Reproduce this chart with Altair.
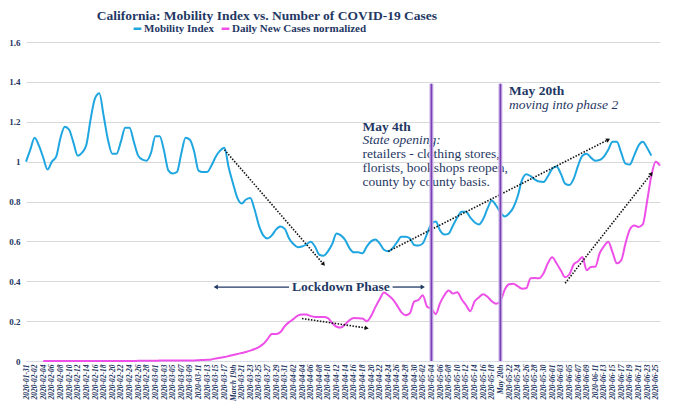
import altair as alt
import pandas as pd

SERIF = "Liberation Serif"
NAVY = "#1F3864"
BLUE = "#1FA6E0"
PINK = "#EE4FE8"

# ---- categories: one per day, 2020-01-31 .. 2020-06-26 ----
start = pd.Timestamp("2020-01-31")
all_dates = [(start + pd.Timedelta(days=i)).strftime("%Y-%m-%d") for i in range(148)]
label_dates = all_dates[0:147:2]

# ---- Mobility Index, 2020-01-31 .. 2020-06-24 ----
mobility = [
    1.0, 1.06, 1.12, 1.08, 1.02, 0.96, 1.0, 1.025, 1.12, 1.175,
    1.16, 1.095, 1.03, 1.045, 1.085, 1.215, 1.317, 1.343, 1.23, 1.11,
    1.04, 1.04, 1.10, 1.17, 1.17, 1.10, 1.03, 1.01, 1.005, 1.045,
    1.127, 1.127, 1.055, 0.956, 0.94, 0.948, 1.04, 1.12, 1.11, 1.05,
    0.955, 0.948, 0.948, 0.98, 1.025, 1.055, 1.07, 0.97, 0.89, 0.818,
    0.79, 0.81, 0.818, 0.76, 0.68, 0.63, 0.615, 0.63, 0.66, 0.675,
    0.663, 0.615, 0.587, 0.571, 0.574, 0.585, 0.598, 0.574, 0.533, 0.528,
    0.55, 0.587, 0.639, 0.63, 0.607, 0.566, 0.545, 0.545, 0.54, 0.574,
    0.60, 0.61, 0.59, 0.558, 0.55, 0.566, 0.595, 0.623, 0.623, 0.615,
    0.582, 0.579, 0.59, 0.639, 0.688, 0.70, 0.655, 0.634, 0.639, 0.68,
    0.72, 0.748, 0.748, 0.72, 0.696, 0.685, 0.712, 0.764, 0.805, 0.78,
    0.745, 0.725, 0.74, 0.77, 0.826, 0.907, 0.937, 0.927, 0.91, 0.90,
    0.898, 0.927, 0.964, 0.976, 0.94, 0.89, 0.883, 0.915, 0.98, 1.03,
    1.04, 1.02, 1.005, 1.008, 1.025, 1.06, 1.10, 1.10, 1.045, 0.99,
    0.985, 1.03, 1.08, 1.10, 1.07, 1.03,
]

# ---- Daily New Cases normalized, 2020-02-04 .. 2020-06-26 ----
cases_first_day = 4
cases = [0.0] * 22 + [
    0.001, 0.001, 0.001, 0.001, 0.001, 0.002, 0.002, 0.002, 0.002, 0.002,
    0.003, 0.003, 0.003,
    0.003, 0.004, 0.005, 0.006, 0.008, 0.012, 0.016, 0.02, 0.025, 0.03,
    0.035, 0.04, 0.045, 0.052, 0.06, 0.07, 0.085, 0.11, 0.135, 0.135,
    0.145, 0.175, 0.195, 0.21, 0.228, 0.233, 0.233, 0.225, 0.221, 0.221,
    0.221, 0.215, 0.19, 0.172, 0.168, 0.184, 0.205, 0.216, 0.215, 0.213,
    0.2, 0.225, 0.27, 0.31, 0.343, 0.33, 0.31, 0.28, 0.245, 0.23,
    0.24, 0.298, 0.306, 0.33, 0.272, 0.262, 0.235, 0.29, 0.33, 0.354,
    0.338, 0.345, 0.31, 0.281, 0.25, 0.298, 0.319, 0.335, 0.322, 0.3,
    0.287, 0.3, 0.358, 0.385, 0.388, 0.375, 0.363, 0.365, 0.415, 0.416,
    0.415, 0.44, 0.49, 0.52, 0.49, 0.455, 0.42, 0.435, 0.485, 0.5,
    0.522, 0.455, 0.472, 0.473, 0.54, 0.575, 0.598, 0.545, 0.49, 0.505,
    0.59, 0.66, 0.68, 0.672, 0.685, 0.8, 0.93, 1.0, 0.98,
]

series_names = ["Mobility Index", "Daily New Cases normalized"]
y_ticks = [0, 0.2, 0.4, 0.6, 0.8, 1.0, 1.2, 1.4, 1.6]

# ---- annotations ----
event_dates = ["2020-05-04", "2020-05-20"]
event_top = 1.39

text_dates = ["2020-04-18", "2020-04-18", "2020-04-18", "2020-04-18", "2020-04-18",
              "2020-05-22", "2020-05-22", "2020-04-13"]
text_values = [1.155, 1.086, 1.017, 0.948, 0.879, 1.335, 1.265, 0.371]
text_lines = ["May 4th", "State opening:", "retailers - clothing stores,",
              "florists, bookshops reopen,", "county by county basis.",
              "May 20th", "moving into phase 2", "Lockdown Phase"]
text_kinds = ["bold", "italic", "normal", "normal", "normal", "bold", "italic", "center"]

trend_start_dates = ["2020-03-17", "2020-04-04", "2020-04-24", "2020-06-04"]
trend_start_values = [1.06, 0.213, 0.55, 0.39]
trend_end_dates = ["2020-04-09", "2020-04-19", "2020-06-14", "2020-06-24"]
trend_end_values = [0.485, 0.165, 1.11, 0.94]
trend_head_angles = [140, 99, 63, 38]

lock_start_dates = ["2020-04-01", "2020-04-25"]
lock_end_dates = ["2020-03-15", "2020-05-02"]
lock_value = 0.371
lock_head_angles = [270, 90]

# ---- tables ----
rows = []
for i, v in enumerate(mobility):
    rows.append({"date": all_dates[i], "value": v, "series": series_names[0]})
for i, v in enumerate(cases):
    rows.append({"date": all_dates[cases_first_day + i], "value": v, "series": series_names[1]})
df = pd.DataFrame(rows)

ev_df = pd.DataFrame({"date": event_dates, "value": [0] * len(event_dates),
                      "top": [event_top] * len(event_dates)})
txt_df = pd.DataFrame({"date": text_dates, "value": text_values,
                       "text": text_lines, "kind": text_kinds})

tr_rows = []
for k in range(len(trend_start_dates)):
    tr_rows.append({"id": k, "ord": 0, "date": trend_start_dates[k], "value": trend_start_values[k]})
    tr_rows.append({"id": k, "ord": 1, "date": trend_end_dates[k], "value": trend_end_values[k]})
tr_df = pd.DataFrame(tr_rows)
tr_head = pd.DataFrame({"date": trend_end_dates, "value": trend_end_values,
                        "angle": trend_head_angles})

lk_rows = []
for k in range(len(lock_start_dates)):
    lk_rows.append({"id": k, "ord": 0, "date": lock_start_dates[k], "value": lock_value})
    lk_rows.append({"id": k, "ord": 1, "date": lock_end_dates[k], "value": lock_value})
lk_df = pd.DataFrame(lk_rows)
lk_head = pd.DataFrame({"date": lock_end_dates, "value": [lock_value] * 2,
                        "angle": lock_head_angles})

# ---- scales / axes ----
x_scale = alt.Scale(domain=all_dates, type="point", padding=0)
y_scale = alt.Scale(domain=[0, 1.6], nice=False)

label_expr = ("datum.value == '2020-03-19' ? 'March 19th' : "
              "(datum.value == '2020-05-20' ? 'May 20th' : datum.value)")

x_axis = alt.Axis(values=label_dates, labelExpr=label_expr, labelAngle=270,
                  labelFont=SERIF, labelFontSize=7.5, labelFontStyle="italic",
                  labelFontWeight="bold", labelColor=NAVY, ticks=False,
                  domainColor="#D6DCE8", labelOverlap=False, labelPadding=3,
                  title=None, grid=False)
y_axis = alt.Axis(values=y_ticks, tickCount=9, format="~g", labelOverlap=False,
                  labelFont=SERIF, labelFontSize=9, labelFontWeight="bold",
                  labelColor=NAVY, grid=True, gridColor="#D9D9D9", gridWidth=1,
                  domain=False, ticks=False, title=None, labelPadding=6)

X = alt.X("date:O", scale=x_scale, axis=x_axis)
Y = alt.Y("value:Q", scale=y_scale, axis=y_axis)

lines = alt.Chart(df).mark_line(strokeWidth=2, interpolate="monotone").encode(
    x=X, y=Y,
    color=alt.Color("series:N", sort=series_names,
                    scale=alt.Scale(domain=series_names, range=[BLUE, PINK]),
                    legend=alt.Legend(orient="none", legendX=106, legendY=-19,
                                      direction="horizontal", title=None,
                                      labelFont=SERIF, labelFontSize=11,
                                      labelFontWeight="bold", labelColor=NAVY,
                                      symbolType="stroke", symbolStrokeWidth=2.5,
                                      symbolSize=60, columnPadding=2, labelOffset=1)),
    detail="series:N",
)

ev_glow = alt.Chart(ev_df).mark_rule(color="#C9B3E6", strokeWidth=4).encode(
    x=X, y=Y, y2="top:Q")
ev_rule = alt.Chart(ev_df).mark_rule(color="#7B3FB5", strokeWidth=1.6).encode(
    x=X, y=Y, y2="top:Q")

trend = alt.Chart(tr_df).mark_line(color="#111111", strokeWidth=1.6,
                                   strokeDash=[1.5, 1.5]).encode(
    x=X, y=Y, detail="id:N", order="ord:Q")
trend_heads = alt.Chart(tr_head).mark_point(shape="triangle-up", filled=True,
                                            color="#111111", size=22, opacity=1).encode(
    x=X, y=Y, angle=alt.Angle("angle:Q", scale=None))

lock = alt.Chart(lk_df).mark_line(color=NAVY, strokeWidth=1.3).encode(
    x=X, y=Y, detail="id:N", order="ord:Q")
lock_heads = alt.Chart(lk_head).mark_point(shape="triangle-up", filled=True,
                                           color=NAVY, size=24, opacity=1).encode(
    x=X, y=Y, angle=alt.Angle("angle:Q", scale=None))


def text_layer(kind, **kw):
    return alt.Chart(txt_df).transform_filter(alt.datum.kind == kind).mark_text(
        font=SERIF, color=NAVY, baseline="middle" if kind == "center" else "alphabetic",
        **kw).encode(x=X, y=Y, text="text:N")


t_bold = text_layer("bold", align="left", fontSize=13.5, fontWeight="bold")
t_ital = text_layer("italic", align="left", fontSize=13.5, fontStyle="italic")
t_norm = text_layer("normal", align="left", fontSize=13.5)
t_lock = text_layer("center", align="center", fontSize=13.5, fontWeight="bold")

chart = alt.layer(
    lines, trend, trend_heads, lock, lock_heads,
    t_bold, t_ital, t_norm, t_lock, ev_glow, ev_rule,
).properties(
    width=660, height=395,
    autosize=alt.AutoSizeParams(type="fit", contains="padding"),
    padding={"left": 0, "top": 0, "right": 4, "bottom": 2},
    title=alt.TitleParams("California: Mobility Index vs. Number of COVID-19 Cases",
                          font=SERIF, fontSize=13.5, fontWeight="bold", color=NAVY,
                          anchor="start", dx=88, offset=16),
).configure_view(stroke=None)

chart.save("out.html", embed_options={"renderer": "svg", "actions": False})
